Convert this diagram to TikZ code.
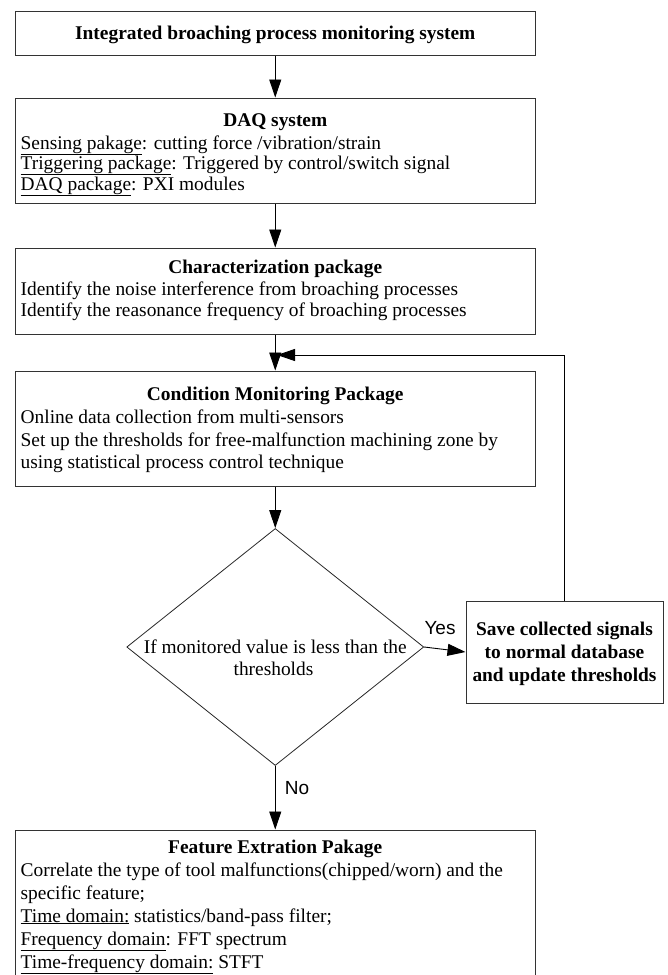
\documentclass[tikz,border=0pt]{standalone}
\usepackage{fontspec}
\setmainfont{Liberation Serif}
\newfontfamily\labelfont{Liberation Sans}
\usetikzlibrary{arrows.meta,shapes.geometric}
\begin{document}
\begin{tikzpicture}[x=1pt,y=-1pt,
  box/.style={draw=black!80, line width=1pt, inner sep=0pt, minimum width=519.5pt},
  arr/.style={draw=black, line width=0.9pt, -{Triangle[length=18pt,width=12pt]}},
  txt/.style={anchor=base west, inner sep=0pt, font=\fontsize{19.4}{22}\selectfont},
  ttl/.style={anchor=base, inner sep=0pt, font=\fontsize{19.4}{22}\selectfont\bfseries},
  ctr/.style={anchor=base, inner sep=0pt, font=\fontsize{19.4}{22}\selectfont},
  lbl/.style={inner sep=0pt, font=\fontsize{19}{22}\selectfont\labelfont}]
\useasboundingbox (0,0) rectangle (667,975);
% boxes
\node[box, minimum height=44pt] (sys) at (275.25,33) {};
\node[box, minimum height=105pt] (daq) at (275.25,150.5) {};
\node[box, minimum height=86pt] (char) at (275.25,291) {};
\node[box, minimum height=115pt] (cond) at (275.25,428.5) {};
\node[box, minimum height=160pt] (feat) at (275.25,910) {};
\node[draw=black!85, line width=0.8pt, diamond, inner sep=0pt, minimum width=297pt, minimum height=237pt] (dia) at (275.25,647) {};
\node[box, minimum width=197pt, minimum height=102pt] (save) at (564.5,652) {};
% texts
\node[ttl] (tsys) at (275.25,39) {Integrated broaching process monitoring system};
\node[ttl] (tdaq) at (275.25,126) {DAQ system};
\node[txt] (d1) at (20.5,149) {\underline{Sensing pakage}: cutting force /vibration/strain};
\node[txt] (d2) at (20.5,169) {\underline{Triggering package}: Triggered by control/switch signal};
\node[txt] (d3) at (20.5,190) {\underline{DAQ package}: PXI modules};
\node[ttl] (tchar) at (275.25,273) {Characterization package};
\node[txt] (c1) at (20.5,295) {Identify the noise interference from broaching processes};
\node[txt] (c2) at (20.5,316) {Identify the reasonance frequency of broaching processes};
\node[ttl] (tcond) at (275.25,400) {Condition Monitoring Package};
\node[txt] (m1) at (20.5,423) {Online data collection from multi-sensors};
\node[txt] (m2) at (20.5,446) {Set up the thresholds for free-malfunction machining zone by};
\node[txt] (m3) at (20.5,468) {using statistical process control technique};
\node[ctr] (q1) at (275.25,653) {If monitored value is less than the};
\node[ctr] (q2) at (273.5,675) {thresholds};
\node[ttl] (s1) at (564.5,635) {Save collected signals};
\node[ttl] (s2) at (564.5,658) {to normal database};
\node[ttl] (s3) at (564.5,681) {and update thresholds};
\node[ttl] (tfeat) at (275.25,853) {Feature Extration Pakage};
\node[txt] (f1) at (20.5,876) {Correlate the type of tool malfunctions(chipped/worn) and the};
\node[txt] (f2) at (20.5,899) {specific feature;};
\node[txt] (f3) at (20.5,922) {\underline{Time domain:} statistics/band-pass filter;};
\node[txt] (f4) at (20.5,945) {\underline{Frequency domain}: FFT spectrum};
\node[txt] (f5) at (20.5,968) {\underline{Time-frequency domain:} STFT};
% connectors
\draw[arr] (sys.south) -- (daq.north);
\draw[arr] (daq.south) -- (char.north);
\draw[arr] (char.south) -- (cond.north);
\draw[arr] (cond.south) -- (dia.north);
\draw[arr] (dia.east) -- (save.west);
\draw[arr] (dia.south) -- (feat.north);
\coordinate (fb) at (277,355);
\draw[arr] (save.north) |- (fb);
\node[lbl] (yes) at (440,628) {Yes};
\node[lbl] (no) at (297,788) {No};
\end{tikzpicture}
\end{document}
